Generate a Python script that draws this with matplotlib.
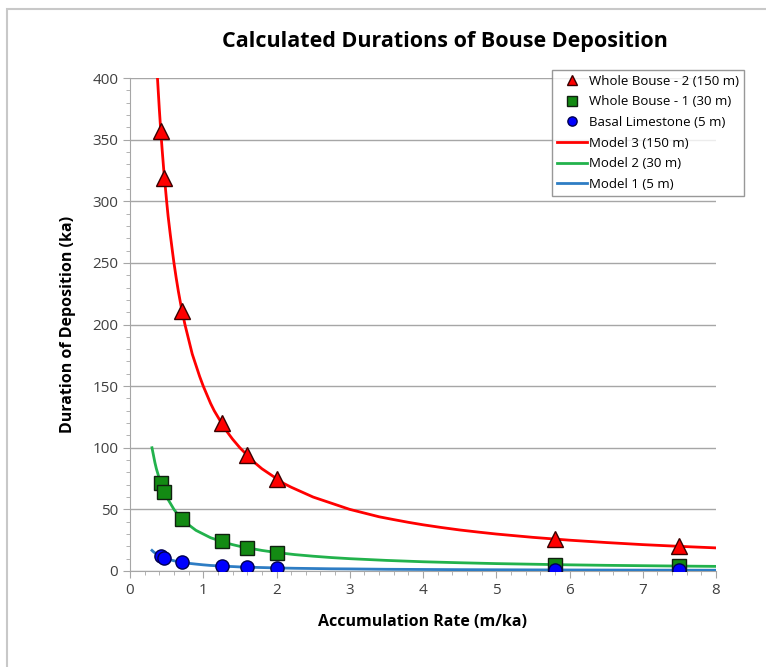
import numpy as np
import matplotlib.pyplot as plt
from matplotlib.patches import Rectangle

plt.rcParams['font.family'] = ['Open Sans', 'DejaVu Sans']

# measured samples (accumulation rate m/ka)
rate = [0.42, 0.47, 0.71, 1.25, 1.6, 2.0, 5.8, 7.5]
bouse2 = [357, 319, 211, 120, 94, 75, 26, 20]
bouse1 = [71, 64, 42, 24, 19, 15, 5.2, 4]
basal = [12, 10.6, 7, 4, 3.1, 2.5, 0.9, 0.7]

# model curves
m3_x = [0.375, 0.38, 0.39, 0.4, 0.41, 0.42, 0.44, 0.46, 0.48, 0.5, 0.52, 0.55,
        0.58, 0.6, 0.63, 0.66, 0.7, 0.75, 0.8, 0.85, 0.9, 0.95, 1.0, 1.05,
        1.1, 1.15, 1.2, 1.25, 1.3, 1.4, 1.5, 1.6, 1.7, 1.8, 1.9, 2.0, 2.1,
        2.2, 2.35, 2.5, 2.65, 2.8, 3.0, 3.2, 3.4, 3.6, 3.8, 4.0, 4.25, 4.5,
        4.75, 5.0, 5.5, 6.0, 6.5, 7.0, 7.5, 8.0]
m3_y = [400, 395, 385, 375, 366, 357, 341, 326, 313, 300, 288, 273,
        259, 250, 238, 227, 214, 200, 188, 176, 167, 158, 150, 143,
        136, 130, 125, 120, 115, 107, 100, 94, 88, 83, 79, 75, 71,
        68, 64, 60, 57, 54, 50, 47, 44, 41.7, 39.5, 37.5, 35.3, 33.3,
        31.6, 30, 27.3, 25, 23.1, 21.4, 20, 18.75]

m_x = [0.3, 0.32, 0.34, 0.36, 0.38, 0.4, 0.43, 0.46, 0.5, 0.55, 0.6, 0.65, 0.7,
       0.75, 0.8, 0.9, 1.0, 1.1, 1.2, 1.3, 1.4, 1.5, 1.6, 1.8, 2.0, 2.25,
       2.5, 2.75, 3.0, 3.5, 4.0, 4.5, 5.0, 5.5, 6.0, 6.5, 7.0, 7.5, 8.0]
m2_y = [100, 94, 88, 83, 79, 75, 70, 65, 60, 55, 50, 46, 43,
        40, 37.5, 33, 30, 27, 25, 23, 21.4, 20, 18.8, 16.7, 15, 13.3,
        12, 10.9, 10, 8.6, 7.5, 6.7, 6, 5.5, 5, 4.6, 4.3, 4, 3.75]
m1_y = [16.7, 15.6, 14.7, 13.9, 13.2, 12.5, 11.6, 10.9, 10, 9.1, 8.3, 7.7, 7.1,
        6.7, 6.25, 5.6, 5, 4.5, 4.2, 3.8, 3.6, 3.3, 3.1, 2.8, 2.5, 2.2,
        2, 1.8, 1.7, 1.4, 1.25, 1.1, 1, 0.9, 0.83, 0.77, 0.71, 0.67, 0.63]

fig = plt.figure(figsize=(7.66, 6.67), dpi=100)
ax = fig.add_axes([130 / 766, 1 - 571 / 667, 586 / 766, 493 / 667])

fig.patches.append(Rectangle((7 / 766, -0.05), 1.1, 1.05 - 9 / 667,
                             transform=fig.transFigure, fill=False,
                             edgecolor='#c8c8c8', lw=1.5))

ax.plot(rate, bouse2, '^', ms=11, mfc='#ff0000', mec='#3a0000', mew=1,
        label='Whole Bouse - 2 (150 m)', zorder=5)
ax.plot(rate, bouse1, 's', ms=9.5, mfc='#138a13', mec='#102010', mew=1,
        label='Whole Bouse - 1 (30 m)', zorder=5)
ax.plot(rate, basal, 'o', ms=9.5, mfc='#0000ff', mec='#000050', mew=1,
        label='Basal Limestone (5 m)', zorder=6)
ax.plot(m3_x, m3_y, color='#ff0000', lw=2, label='Model 3 (150 m)', zorder=3)
ax.plot(m_x, m2_y, color='#22b24c', lw=2, label='Model 2 (30 m)', zorder=3)
ax.plot(m_x, m1_y, color='#2e7dc4', lw=2, label='Model 1 (5 m)', zorder=3)

ax.set_xlim(0, 8)
ax.set_ylim(0, 400)
ax.set_xticks(np.arange(0, 9, 1))
ax.set_xticks(np.arange(0, 8.01, 0.2), minor=True)
ax.set_yticks(np.arange(0, 401, 50))
ax.set_yticks(np.arange(0, 401, 10), minor=True)
ax.grid(axis='y', which='major', color='#a6a6a6', lw=1)
ax.set_axisbelow(True)
for s in ['top', 'right']:
    ax.spines[s].set_visible(False)
for s in ['left', 'bottom']:
    ax.spines[s].set_color('#a6a6a6')
ax.tick_params(which='both', colors='#a6a6a6', labelcolor='#404040',
               labelsize=11, direction='out')
ax.tick_params(which='major', length=5)
ax.tick_params(which='minor', length=3)

ax.set_xlabel('Accumulation Rate (m/ka)', fontsize=11.5, fontweight='bold',
              labelpad=12)
ax.set_ylabel('Duration of Deposition (ka)', fontsize=11.5, fontweight='bold',
              labelpad=12)
fig.text(445 / 766, 1 - 42 / 667, 'Calculated Durations of Bouse Deposition',
         ha='center', va='center', fontsize=15.5, fontweight='bold')

leg = ax.legend(loc='upper right', bbox_to_anchor=(744 / 766, 1 - 70 / 667),
                bbox_transform=fig.transFigure, fontsize=9.5, frameon=True,
                fancybox=False, edgecolor='#7f7f7f', borderpad=0.35,
                labelspacing=0.58, handlelength=2.3, handletextpad=0.15,
                markerscale=0.7, borderaxespad=0)
leg.get_frame().set_linewidth(1)

fig.savefig('out.png', dpi=100)
